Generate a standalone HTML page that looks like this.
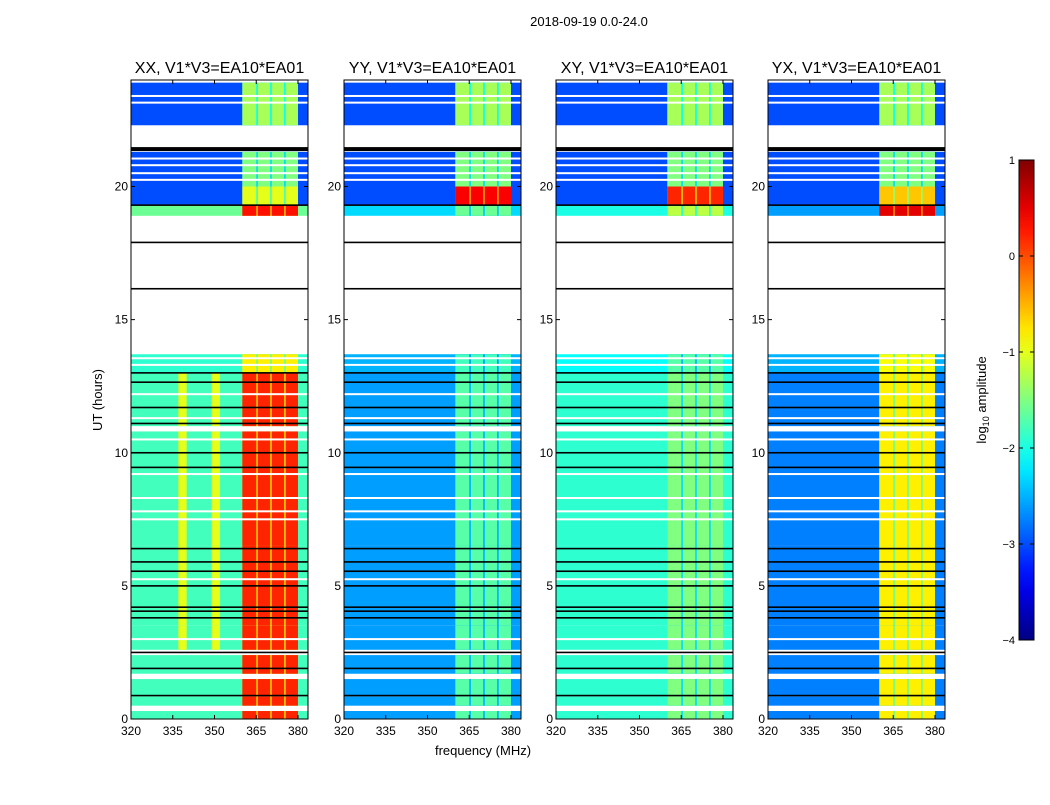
<!DOCTYPE html>
<html><head><meta charset="utf-8"><style>
body{margin:0;background:#fff;font-family:"Liberation Sans",sans-serif;}
svg text{font-family:"Liberation Sans",sans-serif;}
</style></head><body>
<svg id="fig" width="1050" height="800" xmlns="http://www.w3.org/2000/svg">
<rect width="1050" height="800" fill="#fff"/>
<text x="589" y="26" font-size="13" text-anchor="middle">2018-09-19 0.0-24.0</text>
<text transform="translate(102,400) rotate(-90)" font-size="13" text-anchor="middle">UT (hours)</text>
<text x="483" y="755" font-size="13" text-anchor="middle">frequency (MHz)</text>
<g id="panels"></g>
<g id="cbar"></g>
<text transform="translate(986,400) rotate(-90)" font-size="13" text-anchor="middle">log<tspan font-size="9" dy="3">10</tspan><tspan dy="-3"> amplitude</tspan></text>
</svg>
<script>
const panelTitles=["XX, V1*V3=EA10*EA01","YY, V1*V3=EA10*EA01","XY, V1*V3=EA10*EA01","YX, V1*V3=EA10*EA01"];
const panelLeft=[131,344,556,768];
const xTicks=[320,335,350,365,380];
const yTicks=[0,5,10,15,20];
const cbTicks=[1,0,-1,-2,-3,-4];
const rowT0=[0.0,0.5,0.9,1.7,2.6,3.5,4.3,5.0,6.5,11.0,13.0,18.9,19.3,20.0,22.3];
const rowT1=[0.3,0.85,1.5,2.4,3.5,4.3,5.0,6.5,10.8,13.0,13.7,19.3,20.0,21.3,23.9];
const rowSeg=["A","A","A","A","A","A","A","A","A","A","A2","B","C","D","E"];
const segs=["A","A2","B","C","D","E"];
const lowXX=[-1.8,-1.9,-1.6,-3.0,-3.0,-3.0];
const lowYY=[-2.6,-2.5,-2.3,-3.0,-3.0,-3.0];
const lowXY=[-1.9,-2.1,-2.0,-3.0,-3.0,-3.0];
const lowYX=[-2.75,-2.5,-2.6,-3.0,-3.0,-3.0];
const highXX=[0.2,-0.8,0.3,-1.0,-1.5,-1.3];
const highYY=[-1.7,-1.8,-1.6,0.4,-1.5,-1.3];
const highXY=[-1.5,-1.7,-1.2,0.2,-1.5,-1.3];
const highYX=[-0.8,-0.9,0.5,-0.6,-1.5,-1.3];
const xxBrightCols=[[337,340],[349,352]];
const xxBrightLevel=-1.0;
const subBands=[[360,365],[365.6,370],[370.6,375],[375.6,380]];
const whiteLines=[3.0,5.25,7.5,7.8,8.3,9.2,10.5,11.3,12.2,13.3,13.55,20.25,20.5,20.8,21.05,23.15,23.4];
const blackLines=[0.88,1.9,2.5,3.8,4.05,4.2,5.0,5.55,5.9,6.4,9.45,10.0,11.1,11.7,12.65,13.0,16.16,17.9,19.3,21.45];
const fMin=320,fMax=383.6,tMin=0,tMax=24;
const pw=177,py0=80,py1=719;
const NS="http://www.w3.org/2000/svg";
function jet(v){let t=(v+4)/5;t=Math.max(0,Math.min(1,t));
 const r=Math.max(0,Math.min(1,1.5-Math.abs(4*t-3))),g=Math.max(0,Math.min(1,1.5-Math.abs(4*t-2))),b=Math.max(0,Math.min(1,1.5-Math.abs(4*t-1)));
 return `rgb(${Math.round(r*255)},${Math.round(g*255)},${Math.round(b*255)})`;}
function mk(tag,attrs,parent){const e=document.createElementNS(NS,tag);for(const k in attrs)e.setAttribute(k,attrs[k]);parent.appendChild(e);return e;}
function yS(t){return py1-(t-tMin)/(tMax-tMin)*(py1-py0);}
const lows=[lowXX,lowYY,lowXY,lowYX],highs=[highXX,highYY,highXY,highYX];
const root=document.getElementById('panels');
for(let p=0;p<4;p++){
 const x0=panelLeft[p];
 const xS=f=>x0+(f-fMin)/(fMax-fMin)*pw;
 const g=mk('g',{},root);
 
 
 for(let i=0;i<rowT0.length;i++){
  const s=segs.indexOf(rowSeg[i]);
  const lo=lows[p][s],hi=highs[p][s];
  const ya=yS(rowT1[i]),yb=yS(rowT0[i]);
  const r=mk('rect',{x:xS(fMin),y:ya,width:pw,height:yb-ya,fill:jet(lo)},g);
  
  
  if(p===0&&rowSeg[i]==="A"&&rowT0[i]>=2.6){
   for(const c of xxBrightCols){mk('rect',{x:xS(c[0]),y:ya,width:xS(c[1])-xS(c[0]),height:yb-ya,fill:jet(xxBrightLevel)},g);}
  }
  mk('rect',{x:xS(subBands[0][0]),y:ya,width:xS(subBands[3][1])-xS(subBands[0][0]),height:yb-ya,fill:jet(hi-0.8)},g);
  for(const b of subBands){const c=mk('rect',{x:xS(b[0]),y:ya,width:xS(b[1])-xS(b[0]),height:yb-ya,fill:jet(hi)},g);
   
   }
 }
 for(const w of whiteLines)mk('rect',{x:x0,y:yS(w)-1,width:pw,height:2,fill:'#fff'},g);
 for(const b of blackLines)mk('rect',{x:x0,y:yS(b)-0.8,width:pw,height:(b===21.45?4:1.6),fill:'#000'},g);
 mk('rect',{x:x0,y:py0,width:pw,height:py1-py0,fill:'none',stroke:'#000','stroke-width':1},g);
 const t=mk('text',{x:x0+pw/2,y:73,'font-size':16,'text-anchor':'middle'},g);t.textContent=panelTitles[p];
 
 
 for(const f of xTicks){const X=xS(f);mk('line',{x1:X,x2:X,y1:py1,y2:py1-4,stroke:'#000'},g);mk('line',{x1:X,x2:X,y1:py0,y2:py0+4,stroke:'#000'},g);
  const l=mk('text',{x:X,y:py1+16,'font-size':12,'text-anchor':'middle'},g);l.textContent=f;
  
  }
 for(const h of yTicks){const Y=yS(h);mk('line',{x1:x0,x2:x0+4,y1:Y,y2:Y,stroke:'#000'},g);mk('line',{x1:x0+pw,x2:x0+pw-4,y1:Y,y2:Y,stroke:'#000'},g);
  const l=mk('text',{x:x0-3,y:Y+4,'font-size':12,'text-anchor':'end'},g);l.textContent=h;
  
  }
}
const cb=document.getElementById('cbar');
const cx=1019,cw=15,cy0=160,cy1=640;
const defs=mk('defs',{},cb);const lg=mk('linearGradient',{id:'jetg',x1:0,y1:1,x2:0,y2:0},defs);
for(let i=0;i<=20;i++){mk('stop',{offset:i/20,'stop-color':jet(-4+5*i/20)},lg);}
mk('rect',{x:cx,y:cy0,width:cw,height:cy1-cy0,fill:'url(#jetg)',stroke:'#000'},cb);
for(const v of cbTicks){const Y=cy0+(1-v)/5*(cy1-cy0);mk('line',{x1:cx,x2:cx+4,y1:Y,y2:Y,stroke:'#000'},cb);mk('line',{x1:cx+cw,x2:cx+cw-4,y1:Y,y2:Y,stroke:'#000'},cb);
 const l=mk('text',{x:cx-4,y:Y+4,'font-size':11,'text-anchor':'end'},cb);l.textContent=v<0?'\u2212'+(-v):v;
 
 }
</script>
</body></html>
